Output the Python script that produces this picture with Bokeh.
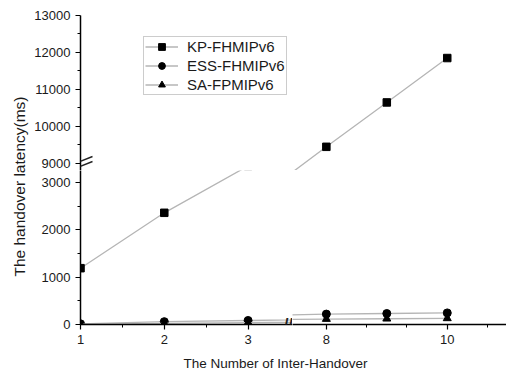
from math import pi
from bokeh.plotting import figure
from bokeh.models import Range1d, FixedTicker, Legend, LegendItem, Label, Arrow, GridPlot
from bokeh.core.properties import value
from bokeh.embed import file_html
from bokeh.resources import INLINE

# ---- data ----
x_vals = [1, 2, 3, 8, 9, 10]
kp_fhmipv6 = [1190, 2360, 3350, 9450, 10650, 11850]
ess_fhmipv6 = [15, 60, 85, 220, 232, 245]
sa_fpmipv6 = [5, 25, 40, 115, 122, 130]
series_names = ["KP-FHMIPv6", "ESS-FHMIPv6", "SA-FPMIPv6"]
series_markers = ["square", "circle", "triangle"]

x_ticks_left = [1, 2, 3]
x_minor_left = [1.5, 2.5]
x_ticks_right = [8, 10]
x_minor_right = [8 + 2 / 3, 9 + 1 / 3, 10 + 2 / 3]
y_ticks_low = [0, 1000, 2000, 3000]
y_minor_low = [500, 1500, 2500]
y_ticks_high = [9000, 10000, 11000, 12000, 13000]
y_minor_high = [9500, 10500, 11500, 12500]

x_title = "The Number of Inter-Handover"
y_title = "The handover latency(ms)"

FONT = "Liberation Sans"
LINE_COLOR = "#b5b5b5"
INK = "#1a1a1a"

# axis segments (broken axes)
x_left = (1, 3.53)
x_right = (7.44, 10.98)
y_low = (0, 3254)
y_high = (8810, 13000)

W_TITLE = 30
BL = 50
FW_L, FW_R = 212, 214
FH_U, FH_L = 155, 154
BT = 15
BB = 24
H_XT = 22


def panel(xr, yr, fw, fh, left, bottom):
    p = figure(frame_width=fw, frame_height=fh,
               x_range=Range1d(*xr), y_range=Range1d(*yr),
               output_backend="svg", toolbar_location=None,
               x_axis_location="below" if bottom else None,
               y_axis_location="left" if left else None,
               min_border_left=BL if left else 0, min_border_right=0,
               min_border_top=0 if bottom else BT,
               min_border_bottom=BB if bottom else 0)
    p.outline_line_color = None
    p.grid.grid_line_color = None
    p.background_fill_color = "white"
    p.border_fill_color = "white"
    for ax in p.axis:
        ax.axis_line_width = 1.5
        ax.axis_line_color = "black"
        ax.major_tick_out = 5
        ax.major_tick_in = 0
        ax.minor_tick_out = 3
        ax.minor_tick_in = 0
        ax.major_tick_line_width = 1.2
        ax.minor_tick_line_width = 1
        ax.major_label_text_font = FONT
        ax.major_label_text_font_size = "13px"
        ax.major_label_text_color = INK
        ax.major_label_standoff = 5
    rs = []
    for ys, mk in zip([kp_fhmipv6, ess_fhmipv6, sa_fpmipv6], series_markers):
        lr = p.line(x_vals, ys, line_color=LINE_COLOR, line_width=1.3)
        sr = p.scatter(x_vals, ys, marker=mk, size=8 if mk != "square" else 7.5,
                       fill_color="black", line_color="black")
        rs.append((lr, sr))
    return p, rs


ul, rs_ul = panel(x_left, y_high, FW_L, FH_U, True, False)
ur, _ = panel(x_right, y_high, FW_R, FH_U, False, False)
ll, _ = panel(x_left, y_low, FW_L, FH_L, True, True)
lr_, _ = panel(x_right, y_low, FW_R, FH_L, False, True)

ul.yaxis.ticker = FixedTicker(ticks=y_ticks_high, minor_ticks=y_minor_high)
ll.yaxis.ticker = FixedTicker(ticks=y_ticks_low, minor_ticks=y_minor_low)
ll.xaxis.ticker = FixedTicker(ticks=x_ticks_left, minor_ticks=x_minor_left)
lr_.xaxis.ticker = FixedTicker(ticks=x_ticks_right, minor_ticks=x_minor_right)

# legend
items = [LegendItem(label=n, renderers=list(r)) for n, r in zip(series_names, rs_ul)]
legend = Legend(items=items, location=(63, 75), padding=1, spacing=2,
                label_height=17, glyph_height=17, glyph_width=33,
                label_standoff=9, margin=0,
                label_text_font=FONT, label_text_font_size="15px",
                label_text_color=INK,
                border_line_color="#999999", border_line_width=1,
                background_fill_color="white", background_fill_alpha=1)
ul.add_layout(legend, "center")

# y-axis break marks (two slanted strokes at the bottom of the upper segment)
sx = (x_left[1] - x_left[0]) / FW_L      # data units per pixel (x)
sy = (y_high[1] - y_high[0]) / FH_U      # data units per pixel (y)
for dy in (6, 1):
    ul.add_layout(Arrow(end=None, start=None,
                        x_start=x_left[0] - 8 * sx, y_start=y_high[0] + dy * sy,
                        x_end=x_left[0] + 12 * sx, y_end=y_high[0] + (dy + 8) * sy,
                        line_color="#222222", line_width=1.5))

# x-axis break mark
ll.add_layout(Label(x=x_left[1], y=y_low[0], x_offset=-4, text="//",
                    text_align="center", text_baseline="middle",
                    text_font=FONT, text_font_size="16px", text_font_style="bold",
                    text_color="#222222"))

# y title figure (spans both rows)
H_YT = BT + FH_U + FH_L + BB
yt = figure(frame_width=W_TITLE, frame_height=H_YT, x_range=Range1d(0, W_TITLE),
            y_range=Range1d(0, H_YT), output_backend="svg", toolbar_location=None,
            x_axis_location=None, y_axis_location=None, min_border=0)
yt.outline_line_color = None
yt.grid.grid_line_color = None
yt.text(x=[18.5], y=[H_YT - 171], text=[y_title], angle=pi / 2,
        text_align="center", text_baseline="middle",
        text_font=value(FONT), text_font_size="15.5px", text_color=INK)

# x title figure (spans both panel columns; its frame aligns with the panels' frames)
W_XT = FW_L + FW_R
xt = figure(frame_width=W_XT, frame_height=H_XT, x_range=Range1d(0, W_XT),
            y_range=Range1d(0, H_XT), output_backend="svg", toolbar_location=None,
            x_axis_location=None, y_axis_location=None, min_border=0)
xt.outline_line_color = None
xt.grid.grid_line_color = None
xt.text(x=[195], y=[H_XT - 15], text=[x_title],
        text_align="center", text_baseline="middle",
        text_font=value(FONT), text_font_size="13.5px", text_color=INK)

grid = GridPlot(children=[(yt, 0, 0, 2, 1), (ul, 0, 1), (ur, 0, 2),
                          (ll, 1, 1), (lr_, 1, 2), (xt, 2, 1, 1, 2)],
                toolbar_location=None, spacing=0)

open("out.html", "w").write(file_html(grid, INLINE))
